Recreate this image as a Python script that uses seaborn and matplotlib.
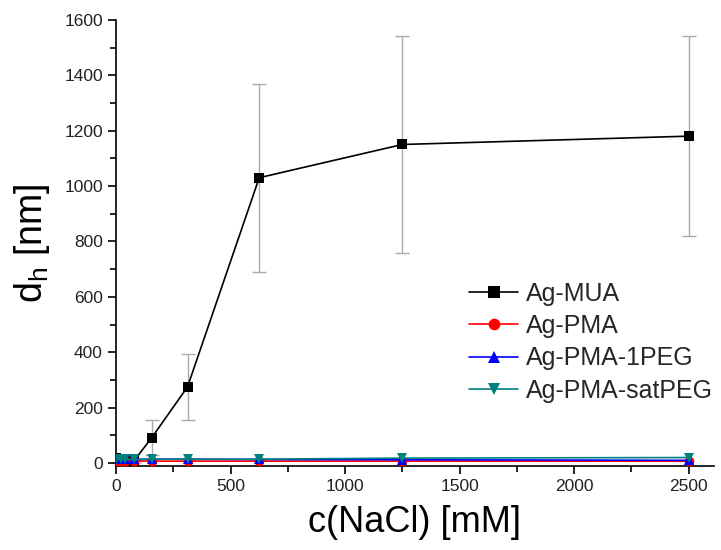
import matplotlib
matplotlib.use("Agg")
import matplotlib.pyplot as plt
import seaborn as sns
import pandas as pd
import numpy as np
from matplotlib.ticker import MultipleLocator

sns.set_style("ticks")
plt.rcParams['font.family'] = ['Liberation Sans', 'DejaVu Sans']

nacl = [0, 20, 39, 78, 156, 312, 625, 1250, 2500]
mua = [18, 16, 15, 8, 92, 275, 1030, 1150, 1180]
mua_err = [8, 6, 6, 6, 62, 120, 340, 392, 360]
pma = [8, 8, 7, 7, 7, 7, 7, 7, 7]
pma_1peg = [15, 14, 14, 13, 14, 14, 13, 12, 10]
pma_satpeg = [14, 14, 13, 13, 14, 14, 14, 18, 20]

names = ["Ag-MUA", "Ag-PMA", "Ag-PMA-1PEG", "Ag-PMA-satPEG"]
series = [mua, pma, pma_1peg, pma_satpeg]
colors = ["black", "red", "blue", "#008080"]
markers = ["s", "o", "^", "v"]

rows = []
for n, s in zip(names, series):
    for x, y in zip(nacl, s):
        rows.append({"c": x, "d": y, "sample": n})
df = pd.DataFrame(rows)

fig = plt.figure(figsize=(7.21, 5.5), dpi=100)
ax = fig.add_axes([0.161, 0.153, 0.829, 0.811])

ax.errorbar(nacl, mua, yerr=mua_err, fmt="none", ecolor="#aaaaaa",
            elinewidth=1, capsize=5, capthick=1, zorder=1)

sns.lineplot(data=df, x="c", y="d", hue="sample", style="sample",
             hue_order=names, style_order=names,
             palette=dict(zip(names, colors)),
             markers=dict(zip(names, markers)), dashes=False,
             markersize=7, markeredgewidth=0, linewidth=1.2, ax=ax, zorder=3)

ax.set_xlim(0, 2610)
ax.set_ylim(-10, 1600)
ax.xaxis.set_major_locator(MultipleLocator(500))
ax.xaxis.set_minor_locator(MultipleLocator(250))
ax.yaxis.set_major_locator(MultipleLocator(200))
ax.yaxis.set_minor_locator(MultipleLocator(100))
ax.tick_params(which="major", direction="out", length=6, width=1.2,
               labelsize=12.5, colors="black", labelcolor="#222222")
ax.tick_params(which="minor", direction="out", length=4, width=1.2, colors="black")
sns.despine(ax=ax)
for sp in ["left", "bottom"]:
    ax.spines[sp].set_linewidth(1.2)
    ax.spines[sp].set_color("black")

ax.set_xlabel("c(NaCl) [mM]", fontsize=26, labelpad=8, color="black")
ax.set_ylabel("d$_\\mathregular{h}$ [nm]", fontsize=27, labelpad=9, color="black")

leg = ax.legend(loc="upper left", bbox_to_anchor=(0.574, 0.435), frameon=False,
                fontsize=18, handlelength=1.95, labelspacing=0.33,
                handletextpad=0.33, borderaxespad=0, markerscale=1.2)

fig.savefig("out.png", dpi=100)
